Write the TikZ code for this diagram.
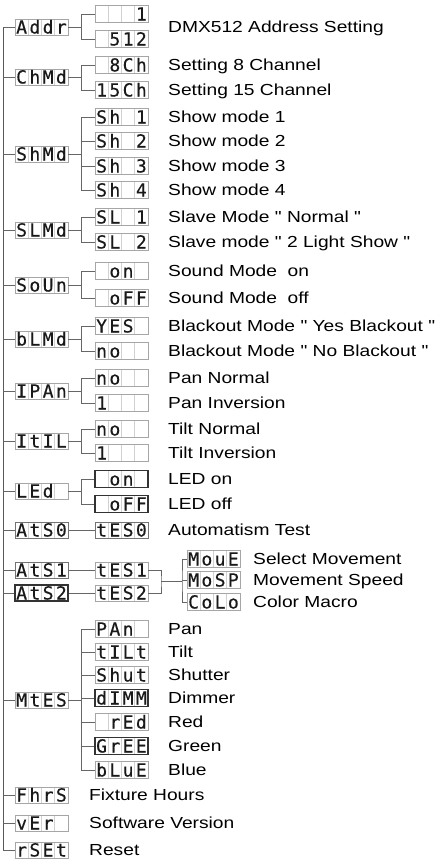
\documentclass[tikz,border=0pt]{standalone}
\usepackage{fontspec}
\setmainfont{Liberation Sans}
\newfontfamily\lblfont[FakeStretch=1.2]{Liberation Sans}
\newfontfamily\segfont[FakeBold=0.35]{DejaVu Sans Mono}
\newlength\cw \setlength\cw{13.25pt}
\newcommand\dsp[4]{\makebox[\cw]{#1}\makebox[\cw]{#2}\makebox[\cw]{#3}\makebox[\cw]{#4}}
\tikzset{
  celldiv/.style={path picture={\foreach \k in {1,2,3}{\draw[black!18,line width=0.6pt] ([xshift=\k*13.25pt]path picture bounding box.south west) -- ([xshift=\k*13.25pt]path picture bounding box.north west);}}},
  segbox/.style={draw=black!35, line width=0.8pt, fill=white, minimum width=53pt, minimum height=16pt, inner sep=0pt, text height=13pt, text depth=0pt, font=\segfont\fontsize{18}{18}\selectfont, text=black!90, celldiv},
  segtall/.style={segbox, minimum height=17.5pt},
  darkbox/.style={draw=black!80, line width=1.1pt},
  midbox/.style={draw=black!55, line width=1pt},
  lbl/.style={anchor=west, inner sep=0pt, text height=11.5pt, text depth=0pt, font=\lblfont\fontsize{16}{18}\selectfont, text=black},
  conn/.style={draw=black!60, line width=0.8pt},
  trunk/.style={draw=black!65, line width=1pt}
}
\begin{document}
\begin{tikzpicture}[x=1pt,y=-1pt]
\useasboundingbox (0,0) rectangle (440,862);
% ---------- level 1 ----------
\node[segbox] (addr) at (41.5,27)  {\dsp{A}{d}{d}{r}};
\node[segbox] (chmd) at (41.5,77)  {\dsp{C}{h}{M}{d}};
\node[segbox] (shmd) at (41.5,154) {\dsp{S}{h}{M}{d}};
\node[segbox] (slmd) at (41.5,230) {\dsp{S}{L}{M}{d}};
\node[segbox] (soun) at (41.5,285) {\dsp{S}{o}{U}{n}};
\node[segbox] (blmd) at (41.5,339) {\dsp{b}{L}{M}{d}};
\node[segbox] (ipan) at (41.5,391) {\dsp{I}{P}{A}{n}};
\node[segbox] (itil) at (41.5,441) {\dsp{I}{t}{I}{L}};
\node[segbox] (led)  at (41.5,491) {\dsp{L}{E}{d}{}};
\node[segbox,midbox] (ats0) at (41.5,530) {\dsp{A}{t}{S}{0}};
\node[segbox,midbox] (ats1) at (41.5,570) {\dsp{A}{t}{S}{1}};
\node[segbox,darkbox] (ats2) at (41.5,593) {\dsp{A}{t}{S}{2}};
\node[segbox] (mtes) at (41.5,700) {\dsp{M}{t}{E}{S}};
\node[segbox] (fhrs) at (41.5,795) {\dsp{F}{h}{r}{S}};
\node[segbox] (ver)  at (41.5,823) {\dsp{v}{E}{r}{}};
\node[segbox] (rset) at (41.5,850) {\dsp{r}{S}{E}{t}};
% ---------- level 2 ----------
\node[segtall] (a1) at (121.5,14) {\dsp{}{}{}{1}};
\node[segtall] (a2) at (121.5,39) {\dsp{}{5}{1}{2}};
\node[segtall] (c1) at (121.5,65) {\dsp{}{8}{C}{h}};
\node[segtall] (c2) at (121.5,90) {\dsp{1}{5}{C}{h}};
\node[segtall] (s1) at (121.5,117) {\dsp{S}{h}{}{1}};
\node[segtall] (s2) at (121.5,141) {\dsp{S}{h}{}{2}};
\node[segtall] (s3) at (121.5,166) {\dsp{S}{h}{}{3}};
\node[segtall] (s4) at (121.5,190) {\dsp{S}{h}{}{4}};
\node[segtall] (l1) at (121.5,217) {\dsp{S}{L}{}{1}};
\node[segtall] (l2) at (121.5,242) {\dsp{S}{L}{}{2}};
\node[segtall] (o1) at (121.5,271) {\dsp{}{o}{n}{}};
\node[segtall] (o2) at (121.5,298) {\dsp{}{o}{F}{F}};
\node[segtall] (b1) at (121.5,326) {\dsp{Y}{E}{S}{}};
\node[segtall] (b2) at (121.5,351) {\dsp{n}{o}{}{}};
\node[segtall] (p1) at (121.5,378) {\dsp{n}{o}{}{}};
\node[segtall] (p2) at (121.5,403) {\dsp{1}{}{}{}};
\node[segtall] (i1) at (121.5,429) {\dsp{n}{o}{}{}};
\node[segtall] (i2) at (121.5,453) {\dsp{1}{}{}{}};
\node[segtall,darkbox] (e1) at (121.5,479) {\dsp{}{o}{n}{}};
\node[segtall,darkbox] (e2) at (121.5,504) {\dsp{}{o}{F}{F}};
\node[segbox,midbox] (tes0) at (121.5,530) {\dsp{t}{E}{S}{0}};
\node[segbox] (tes1) at (121.5,570) {\dsp{t}{E}{S}{1}};
\node[segbox] (tes2) at (121.5,593) {\dsp{t}{E}{S}{2}};
\node[segtall] (m1) at (121.5,629) {\dsp{P}{A}{n}{}};
\node[segtall] (m2) at (121.5,652) {\dsp{t}{I}{L}{t}};
\node[segtall] (m3) at (121.5,675) {\dsp{S}{h}{u}{t}};
\node[segtall,darkbox] (m4) at (121.5,698) {\dsp{d}{I}{M}{M}};
\node[segtall] (m5) at (121.5,722) {\dsp{}{r}{E}{d}};
\node[segtall,darkbox] (m6) at (121.5,746) {\dsp{G}{r}{E}{E}};
\node[segtall] (m7) at (121.5,770) {\dsp{b}{L}{u}{E}};
% ---------- level 3 ----------
\node[segtall] (n1) at (213.5,559) {\dsp{M}{o}{u}{E}};
\node[segtall] (n2) at (213.5,580) {\dsp{M}{o}{S}{P}};
\node[segtall] (n3) at (213.5,602) {\dsp{C}{o}{L}{o}};
% ---------- labels ----------
\node[lbl] (ta)  at (168,27)  {DMX512 Address Setting};
\node[lbl] (tc1) at (168,65)  {Setting 8 Channel};
\node[lbl] (tc2) at (168,90)  {Setting 15 Channel};
\node[lbl] (ts1) at (168,117) {Show mode 1};
\node[lbl] (ts2) at (168,141) {Show mode 2};
\node[lbl] (ts3) at (168,166) {Show mode 3};
\node[lbl] (ts4) at (168,190) {Show mode 4};
\node[lbl] (tl1) at (168,217) {Slave Mode " Normal "};
\node[lbl] (tl2) at (168,242) {Slave mode " 2 Light Show "};
\node[lbl] (to1) at (168,271) {Sound Mode\ \ on};
\node[lbl] (to2) at (168,298) {Sound Mode\ \ off};
\node[lbl] (tb1) at (168,326) {Blackout Mode " Yes Blackout "};
\node[lbl] (tb2) at (168,351) {Blackout Mode " No Blackout "};
\node[lbl] (tp1) at (168,378) {Pan Normal};
\node[lbl] (tp2) at (168,403) {Pan Inversion};
\node[lbl] (ti1) at (168,429) {Tilt Normal};
\node[lbl] (ti2) at (168,453) {Tilt Inversion};
\node[lbl] (te1) at (168,479) {LED on};
\node[lbl] (te2) at (168,504) {LED off};
\node[lbl] (tt0) at (168,530) {Automatism Test};
\node[lbl] (tn1) at (253,559) {Select Movement};
\node[lbl] (tn2) at (253,580) {Movement Speed};
\node[lbl] (tn3) at (253,602) {Color Macro};
\node[lbl] (tm1) at (168,629) {Pan};
\node[lbl] (tm2) at (168,652) {Tilt};
\node[lbl] (tm3) at (168,675) {Shutter};
\node[lbl] (tm4) at (168,698) {Dimmer};
\node[lbl] (tm5) at (168,722) {Red};
\node[lbl] (tm6) at (168,746) {Green};
\node[lbl] (tm7) at (168,770) {Blue};
\node[lbl] (tf)  at (89,795)  {Fixture Hours};
\node[lbl] (tv)  at (89,823)  {Software Version};
\node[lbl] (tr)  at (89,850)  {Reset};
% ---------- trunk ----------
\coordinate (top) at (3,27);
\coordinate (bot) at (3,850);
\draw[trunk] (top) -- (bot);
\foreach \n in {addr,chmd,shmd,slmd,soun,blmd,ipan,itil,led,ats0,ats1,ats2,mtes,fhrs,ver,rset}
  \draw[conn] (\n.west) -- (\n.west -| top);
% ---------- brackets ----------
\foreach \p/\f/\l in {addr/a1/a2, chmd/c1/c2, shmd/s1/s4, slmd/l1/l2, soun/o1/o2, blmd/b1/b2, ipan/p1/p2, itil/i1/i2, led/e1/e2, mtes/m1/m7}{
  \coordinate (j\p) at ([xshift=13pt]\p.east);
  \draw[conn] (\p.east) -- (j\p);
  \draw[conn] (\f.west) -| (j\p) |- (\l.west);
}
\foreach \c in {s2,s3}   \draw[conn] (\c.west) -- (\c.west -| jshmd);
\foreach \c in {m2,m3,m4,m5,m6} \draw[conn] (\c.west) -- (\c.west -| jmtes);
\draw[conn] (ats0.east) -- (tes0.west);
\draw[conn] (ats1.east) -- (tes1.west);
\draw[conn] (ats2.east) -- (tes2.west);
\coordinate (k1) at (161,581);
\coordinate (k2) at (182,581);
\draw[conn] (tes1.east) -| (k1) |- (tes2.east);
\draw[conn] (k1) -- (k2);
\draw[conn] (n1.west) -| (k2) |- (n3.west);
\draw[conn] (n2.west) -- (n2.west -| k2);
\end{tikzpicture}
\end{document}
